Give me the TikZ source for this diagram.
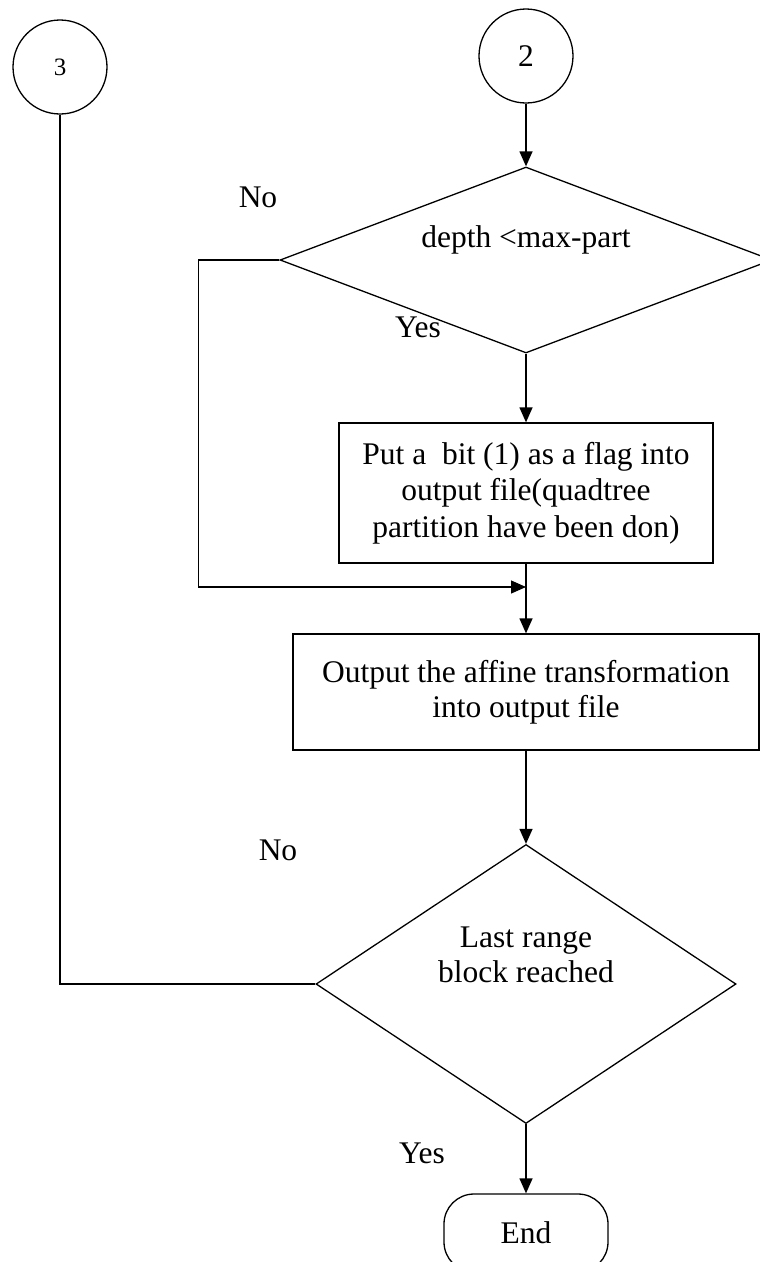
\documentclass[tikz,border=0pt]{standalone}
\usepackage{fontspec}
\setmainfont{Liberation Serif}
\usetikzlibrary{shapes.geometric,arrows.meta}

\begin{document}
\begin{tikzpicture}[x=1pt,y=-1pt,line width=1.3pt,
    font=\fontsize{31.5}{35}\selectfont,
    conn/.style={draw,circle,minimum size=94pt,inner sep=0pt},
    block/.style={draw,rectangle,align=center,inner sep=0pt},
    decision/.style={draw,diamond,inner sep=0pt},
    term/.style={draw,rectangle,rounded corners=30pt,minimum width=164pt,minimum height=78pt},
    arr/.style={-{Triangle[length=15pt,width=13pt]}}]
  \useasboundingbox (0,0) rectangle (760,1262);
  % connectors
  \node[conn,font=\fontsize{25}{28}\selectfont] (three) at (60,67) {3};
  \node[conn] (two) at (526,56) {2};
  % first test
  \node[decision,minimum width=492pt,minimum height=186pt] (cond) at (526,260) {};
  \node (condtxt) at (526,240) {depth <max-part};
  \node (no1) at (258,197) {No};
  \node (yes1) at (418,327) {Yes};
  \node[block,minimum width=374pt,minimum height=140pt,font=\fontsize{31.5}{36.5}\selectfont] (flag) at (526,493) {Put a \ bit (1) as a flag into\\output file(quadtree\\partition have been don)};
  \coordinate (merge) at (526,587);
  \node[block,minimum width=466pt,minimum height=116pt] (out) at (526,692) {Output the affine transformation\\into output file};
  % last test
  \node[decision,minimum width=420pt,minimum height=279pt] (last) at (526,984) {};
  \node[align=center] (lasttxt) at (526,955) {Last range\\block reached};
  \node (no2) at (278,850) {No};
  \node (yes2) at (422,1153) {Yes};
  \node[term] (end) at (526,1233) {End};
  % arrows
  \draw[arr] (two) -- (cond.north);
  \draw[arr] (cond.south) -- (flag.north);
  \draw[arr] (cond.west) -- ++(-81,0) |- (merge);
  \draw[arr] (flag.south) -- (out.north);
  \draw[arr] (out.south) -- (last.north);
  \draw (three.south) |- (last.west);
  \draw[arr] (last.south) -- (end.north);
\end{tikzpicture}
\end{document}
